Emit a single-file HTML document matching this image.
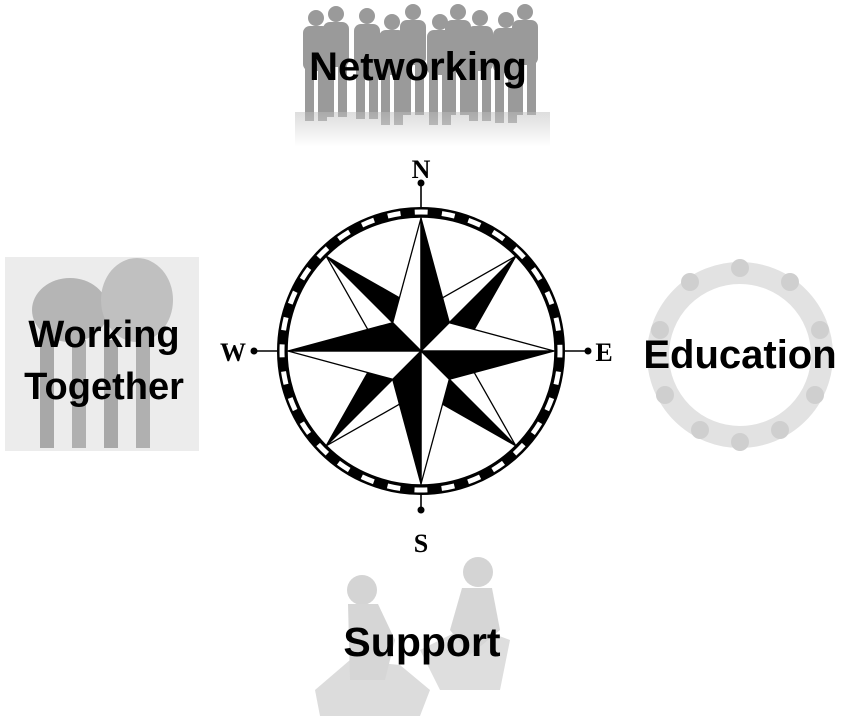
<!DOCTYPE html>
<html><head><meta charset="utf-8"><style>
html,body{margin:0;padding:0;background:#fff;width:856px;height:716px;overflow:hidden}
svg{display:block}
</style></head><body>
<svg width="856" height="716" viewBox="0 0 856 716" xmlns="http://www.w3.org/2000/svg">
<defs>
<linearGradient id="fade" x1="0" y1="0" x2="0" y2="1">
<stop offset="0" stop-color="#bbb"/><stop offset="1" stop-color="#fff"/></linearGradient>
<g id="p"><circle cx="0" cy="0" r="8"/><rect x="-13" y="8" width="26" height="45" rx="7"/><rect x="-11" y="48" width="9" height="55"/><rect x="2" y="48" width="9" height="55"/></g>
</defs>
<g fill="#9a9a9a">
<use href="#p" x="316" y="18"/><use href="#p" x="336" y="14"/><use href="#p" x="367" y="16"/><use href="#p" x="392" y="22"/>
<use href="#p" x="413" y="12"/><use href="#p" x="440" y="22"/><use href="#p" x="458" y="12"/><use href="#p" x="480" y="18"/>
<use href="#p" x="506" y="20"/><use href="#p" x="525" y="12"/>
</g>
<rect x="295" y="112" width="255" height="35" fill="url(#fade)" opacity="0.5"/>
<rect x="5" y="257" width="194" height="194" fill="#ececec"/>
<ellipse cx="70" cy="310" rx="38" ry="32" fill="#b5b5b5"/>
<ellipse cx="137" cy="300" rx="36" ry="42" fill="#c0c0c0"/>
<rect x="40" y="330" width="14" height="118" fill="#a8a8a8"/><rect x="72" y="340" width="14" height="108" fill="#b0b0b0"/>
<rect x="104" y="340" width="14" height="108" fill="#a8a8a8"/><rect x="136" y="330" width="14" height="118" fill="#b0b0b0"/>
<circle cx="740" cy="355" r="82" fill="none" stroke="#e2e2e2" stroke-width="22"/>
<g fill="#cfcfcf"><circle cx="740" cy="268" r="9"/><circle cx="690" cy="282" r="9"/><circle cx="790" cy="282" r="9"/><circle cx="660" cy="330" r="9"/><circle cx="820" cy="330" r="9"/><circle cx="665" cy="395" r="9"/><circle cx="815" cy="395" r="9"/><circle cx="700" cy="430" r="9"/><circle cx="780" cy="430" r="9"/><circle cx="740" cy="442" r="9"/></g>
<path d="M315 690 L350 660 L400 665 L430 690 L420 716 L320 716 Z" fill="#dcdcdc"/>
<path d="M420 650 L470 625 L510 640 L500 690 L440 690 Z" fill="#dedede"/>
<circle cx="362" cy="590" r="15" fill="#d4d4d4"/><circle cx="478" cy="572" r="15" fill="#d4d4d4"/>
<path d="M348 604 L378 604 L395 640 L385 680 L350 680 Z" fill="#d6d6d6"/>
<path d="M462 588 L492 588 L500 630 L470 655 L450 630 Z" fill="#d6d6d6"/>
<g stroke="#000" stroke-width="1.6">
<line x1="421" y1="183" x2="421" y2="207"/><line x1="421" y1="495" x2="421" y2="510"/>
<line x1="254" y1="351" x2="277" y2="351"/><line x1="565" y1="351" x2="588" y2="351"/>
</g>
<g fill="#000"><circle cx="421" cy="183" r="3.5"/><circle cx="421" cy="510" r="3.5"/><circle cx="254" cy="351" r="3.5"/><circle cx="588" cy="351" r="3.5"/></g>
<circle cx="421" cy="351" r="139" fill="#fff" stroke="#000" stroke-width="10"/>
<circle cx="421" cy="351" r="139" fill="none" stroke="#fff" stroke-width="5" stroke-dasharray="13 14.29" stroke-dashoffset="6.5"/>
<circle cx="421" cy="351" r="134" fill="none" stroke="#000" stroke-width="1.5"/>
<g stroke="#000" stroke-width="1.3" stroke-linejoin="round">
<polygon points="421,351 443.2,297.4 515.8,256.2" fill="#fff"/>
<polygon points="421,351 515.8,256.2 474.6,328.8" fill="#000"/>
<polygon points="421,351 474.6,373.2 515.8,445.8" fill="#fff"/>
<polygon points="421,351 515.8,445.8 443.2,404.6" fill="#000"/>
<polygon points="421,351 398.8,404.6 326.2,445.8" fill="#fff"/>
<polygon points="421,351 326.2,445.8 367.4,373.2" fill="#000"/>
<polygon points="421,351 367.4,328.8 326.2,256.2" fill="#fff"/>
<polygon points="421,351 326.2,256.2 398.8,297.4" fill="#000"/>
<polygon points="421,351 392.7,322.7 421,218" fill="#fff"/>
<polygon points="421,351 421,218 449.3,322.7" fill="#000"/>
<polygon points="421,351 449.3,322.7 554,351" fill="#fff"/>
<polygon points="421,351 554,351 449.3,379.3" fill="#000"/>
<polygon points="421,351 449.3,379.3 421,484" fill="#fff"/>
<polygon points="421,351 421,484 392.7,379.3" fill="#000"/>
<polygon points="421,351 392.7,379.3 288,351" fill="#fff"/>
<polygon points="421,351 288,351 392.7,322.7" fill="#000"/>
</g>
<g font-family="Liberation Serif, serif" font-weight="bold" font-size="26" text-anchor="middle" fill="#000">
<text x="421" y="178">N</text><text x="421" y="552">S</text><text x="233" y="361">W</text><text x="604" y="361">E</text>
</g>
<g font-family="Liberation Sans, sans-serif" font-weight="bold" fill="#000">
<text x="418" y="80" font-size="40" text-anchor="middle">Networking</text>
<text x="104" y="347" font-size="38" text-anchor="middle">Working</text>
<text x="104" y="399" font-size="38" text-anchor="middle">Together</text>
<text x="740" y="368" font-size="40" text-anchor="middle">Education</text>
<text x="422" y="656" font-size="41" text-anchor="middle">Support</text>
</g>
</svg>
</body></html>
